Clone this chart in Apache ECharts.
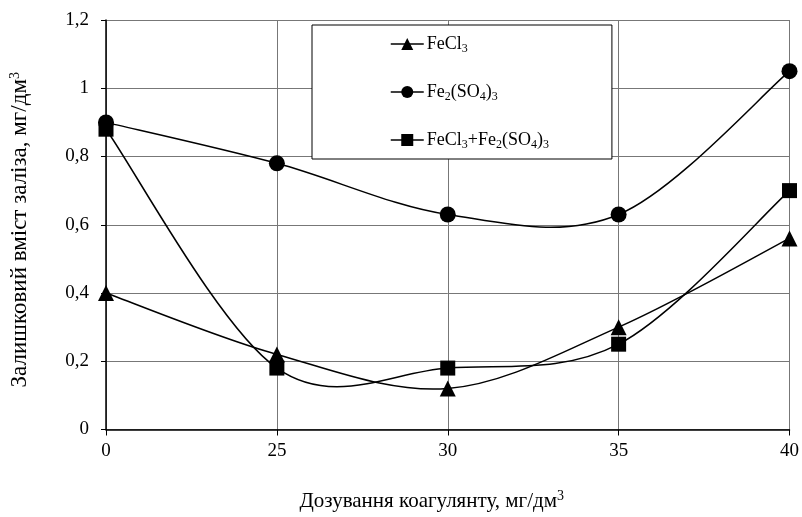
<!DOCTYPE html>
<html><head><meta charset="utf-8">
<script src="https://cdn.jsdelivr.net/npm/echarts@6/dist/echarts.min.js"></script>
<style>html,body{margin:0;padding:0;background:#fff}#c{width:802px;height:517px}</style>
</head><body><div id="c"></div>
<script>
const categories = ['0', '25', '30', '35', '40'];
const feCl3 = [0.40, 0.22, 0.12, 0.30, 0.56];
const fe2so4 = [0.90, 0.78, 0.63, 0.63, 1.05];
const mix = [0.88, 0.18, 0.18, 0.25, 0.70];
const seriesNames = ['FeCl3', 'Fe2(SO4)3', 'FeCl3+Fe2(SO4)3'];
const legendRich = {
  'FeCl3': 'FeCl{s|3}',
  'Fe2(SO4)3': 'Fe{s|2}(SO{s|4}){s|3}',
  'FeCl3+Fe2(SO4)3': 'FeCl{s|3}+Fe{s|2}(SO{s|4}){s|3}'
};
const font = 'Liberation Serif';
const chart = echarts.init(document.getElementById('c'));

function markers(name, data, symbol, size) {
  return {
    name, type: 'line', data, symbol, symbolSize: size,
    itemStyle: { color: '#000' }, lineStyle: { color: '#000', width: 1.5, opacity: 0 },
    emphasis: { disabled: true }, z: 4
  };
}
// Excel-like smoothed curve through the points, positioned via the axes (api.coord)
function curve(name, data) {
  return {
    name, type: 'custom', data: [[0, 0]], silent: true, z: 3,
    renderItem: function (params, api) {
      const p = data.map((v, i) => api.coord([i, v]));
      const children = [];
      for (let i = 0; i < p.length - 1; i++) {
        const p0 = p[Math.max(i - 1, 0)], p1 = p[i], p2 = p[i + 1], p3 = p[Math.min(i + 2, p.length - 1)];
        children.push({
          type: 'bezierCurve',
          shape: {
            x1: p1[0], y1: p1[1], x2: p2[0], y2: p2[1],
            cpx1: p1[0] + (p2[0] - p0[0]) / 6, cpy1: p1[1] + (p2[1] - p0[1]) / 6,
            cpx2: p2[0] - (p3[0] - p1[0]) / 6, cpy2: p2[1] - (p3[1] - p1[1]) / 6
          },
          style: { stroke: '#000', lineWidth: 1.5, fill: null }
        });
      }
      return { type: 'group', children };
    }
  };
}
const sup = { fontFamily: font, fontSize: 14, color: '#000', verticalAlign: 'top', padding: [0, 0, 10, 0] };
chart.setOption({
  animation: false,
  textStyle: { fontFamily: font },
  grid: { left: 105, right: 12, top: 20, bottom: 82, containLabel: false },
  legend: {
    orient: 'vertical', left: 312, top: 25,
    padding: [10, 63, 8, 78],
    itemGap: 28, itemWidth: 33, itemHeight: 15,
    backgroundColor: '#fff', borderColor: '#000', borderWidth: 1,
    data: seriesNames,
    lineStyle: { color: '#000', width: 1.5, opacity: 1 },
    formatter: n => legendRich[n],
    textStyle: {
      fontFamily: font, fontSize: 18, color: '#000', padding: [0, 0, 0, -2],
      rich: { s: { fontFamily: font, fontSize: 12, color: '#000', verticalAlign: 'bottom', padding: [10, 0, 0, 0] } }
    }
  },
  xAxis: {
    type: 'category', data: categories, boundaryGap: false,
    name: 'Дозування коагулянту, мг/дм{sup|3}', nameLocation: 'middle', nameGap: 60,
    nameTextStyle: { fontFamily: font, fontSize: 21, color: '#000', padding: [0, 32, 0, 0], rich: { sup } },
    axisLine: { lineStyle: { color: '#000', width: 1.5 } },
    axisTick: { show: true, length: 6, lineStyle: { color: '#000' } },
    axisLabel: { fontFamily: font, fontSize: 19, color: '#000', margin: 12 },
    splitLine: { show: true, lineStyle: { color: '#777', width: 1 } }
  },
  yAxis: {
    type: 'value', min: 0, max: 1.2, interval: 0.2,
    name: 'Залишковий вміст заліза, мг/дм{sup|3}', nameLocation: 'middle', nameGap: 74, nameRotate: 90,
    nameTextStyle: { fontFamily: font, fontSize: 23, color: '#000', padding: [0, 10, 0, 0], rich: { sup } },
    axisLine: { show: true, lineStyle: { color: '#000', width: 1.5 } },
    axisTick: { show: true, length: 5, lineStyle: { color: '#000' } },
    axisLabel: { fontFamily: font, fontSize: 19, color: '#000', margin: 17,
      formatter: v => String(Math.round(v * 10) / 10).replace('.', ',') },
    splitLine: { show: true, lineStyle: { color: '#777', width: 1 } }
  },
  series: [
    markers(seriesNames[0], feCl3, 'triangle', 16),
    markers(seriesNames[1], fe2so4, 'circle', 16),
    markers(seriesNames[2], mix, 'rect', 15),
    curve(seriesNames[0], feCl3),
    curve(seriesNames[1], fe2so4),
    curve(seriesNames[2], mix)
  ]
});
</script></body></html>
